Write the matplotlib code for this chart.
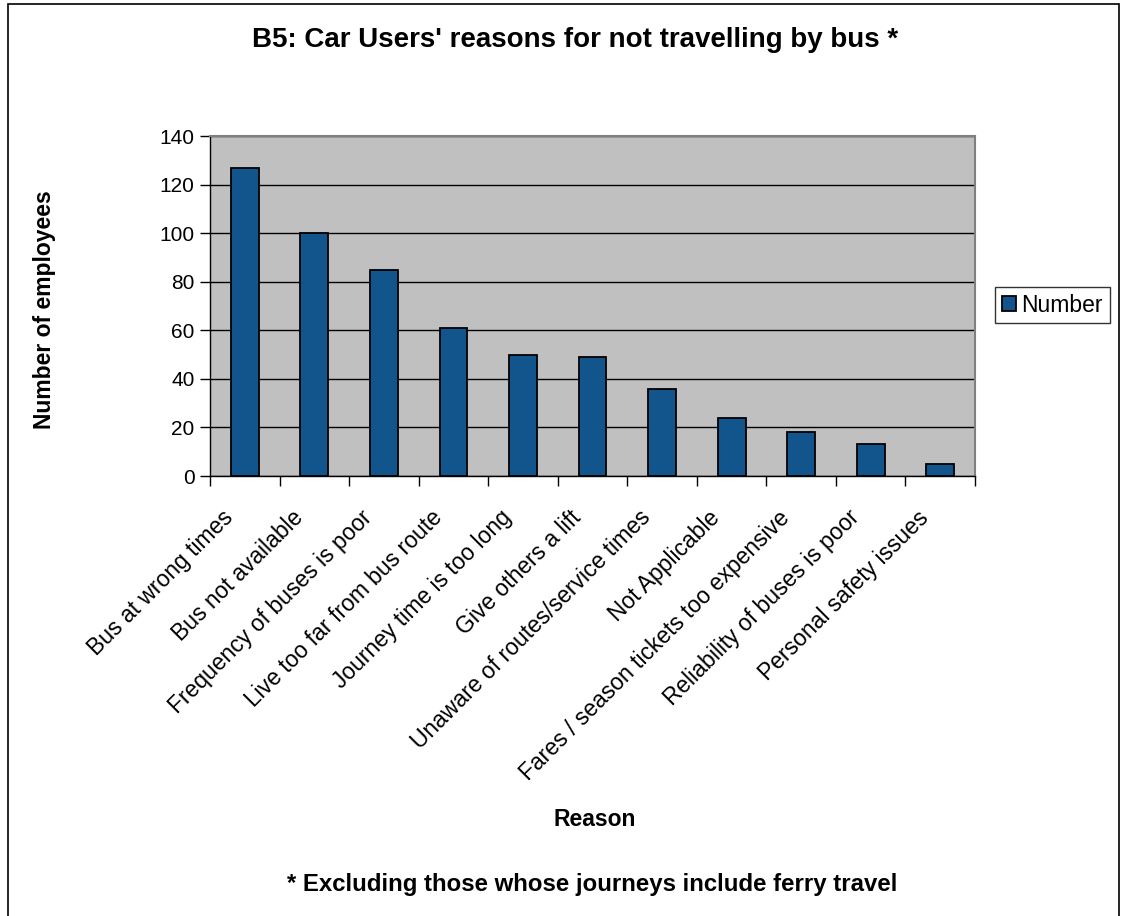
import matplotlib
matplotlib.use("Agg")
import matplotlib.pyplot as plt
from matplotlib.patches import Rectangle
from matplotlib.transforms import ScaledTranslation
import numpy as np

plt.rcParams['font.family'] = ['Liberation Sans', 'DejaVu Sans']

categories = ["Bus at wrong times", "Bus not available", "Frequency of buses is poor",
              "Live too far from bus route", "Journey time is too long", "Give others a lift",
              "Unaware of routes/service times", "Not Applicable",
              "Fares / season tickets too expensive", "Reliability of buses is poor",
              "Personal safety issues"]
values = [127, 100, 85, 61, 50, 49, 36, 24, 18, 13, 5]
yticks = [0, 20, 40, 60, 80, 100, 120, 140]
series_name = "Number"

W, H = 1125, 916
fig = plt.figure(figsize=(W / 100, H / 100), dpi=100)
ax = fig.add_axes([210 / W, 1 - 476 / H, (975 - 210) / W, (476 - 136) / H])

x = np.arange(len(categories))
ax.bar(x, values, width=0.4, color='#12548c', edgecolor='black', linewidth=1.3,
       label=series_name, zorder=3)
ax.set_facecolor('#c0c0c0')
ax.set_xlim(-0.5, len(categories) - 0.5)
ax.set_ylim(0, 140)
ax.set_yticks(yticks)
ax.set_yticklabels([str(v) for v in yticks], fontsize=15)
ax.yaxis.grid(True, color='black', linewidth=1, zorder=1)
ax.set_axisbelow(True)

# category boundary ticks
ax.set_xticks(np.arange(-0.5, len(categories), 1.0))
ax.set_xticklabels([])
ax.tick_params(axis='x', which='major', length=7, width=1, color='black', direction='out')
ax.tick_params(axis='y', length=7, width=1, color='black', direction='out', pad=4)

# rotated category labels
offset = ScaledTranslation(-0.23, -0.30, fig.dpi_scale_trans)
for xi, lab in zip(x, categories):
    ax.text(xi, 0, lab, transform=ax.get_xaxis_transform() + offset,
            rotation=45, ha='right', va='top', rotation_mode='anchor',
            fontsize=16.5, clip_on=False)

for s in ['top', 'right']:
    ax.spines[s].set_color('#808080')
    ax.spines[s].set_linewidth(1.5)
for s in ['left', 'bottom']:
    ax.spines[s].set_color('black')
    ax.spines[s].set_linewidth(1)

leg = ax.legend(loc='center left', bbox_to_anchor=(995 / W, 1 - 305 / H),
                bbox_transform=fig.transFigure, fontsize=16.5, frameon=True,
                fancybox=False, edgecolor='black', handlelength=0.6, handleheight=0.6,
                handletextpad=0.25, borderpad=0.3, borderaxespad=0)
leg.get_frame().set_linewidth(1)

fig.text(575 / W, 1 - 40 / H, "B5: Car Users' reasons for not travelling by bus *",
         ha='center', va='center', fontsize=20, fontweight='bold')
fig.text(45 / W, 1 - 310 / H, "Number of employees", rotation=90, ha='center',
         va='center', fontsize=16.5, fontweight='bold')
fig.text(595 / W, 1 - 820 / H, "Reason", ha='center', va='center', fontsize=16.5,
         fontweight='bold')
fig.text(592 / W, 1 - 884 / H, "* Excluding those whose journeys include ferry travel",
         ha='center', va='center', fontsize=17.3, fontweight='bold')

fig.patches.append(Rectangle((8 / W, -0.05), (1119 - 8) / W, 1.05 - 4 / H,
                             transform=fig.transFigure, fill=False,
                             edgecolor='black', linewidth=1.2))

fig.savefig('out.png', dpi=100)
